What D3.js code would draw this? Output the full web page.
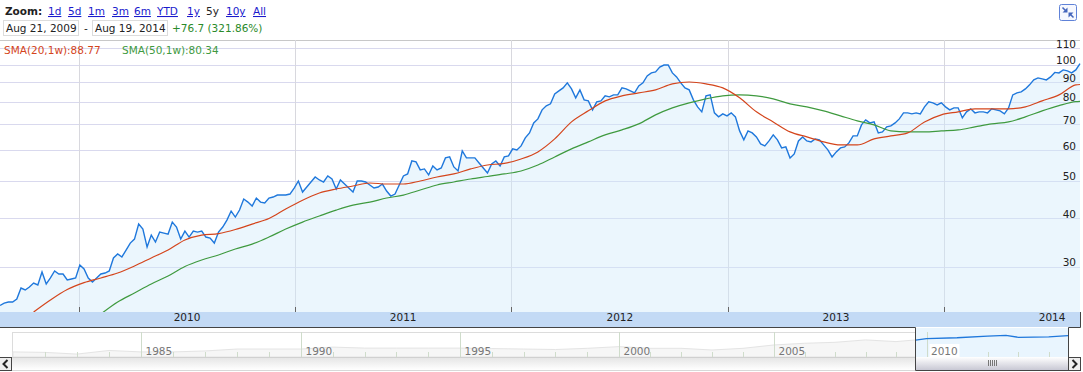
<!DOCTYPE html>
<html>
<head>
<meta charset="utf-8">
<script src="https://cdn.jsdelivr.net/npm/d3@7"></script>
<style>
  html, body { margin: 0; padding: 0; background: #fff; }
  svg { display: block; }
  text { font-family: "DejaVu Sans", Verdana, sans-serif; font-size: 10.5px; }
  .domain { display: none; }
</style>
</head>
<body>
<div class="canvas"></div>
<script>
// weekly closes, 21 Aug 2009 to 19 Aug 2014
const closes = [
  23.83,24.18,24.33,24.33,24.77,26.44,26.13,26.60,27.24,26.92,
  29.09,27.08,28.07,29.26,28.74,28.74,27.73,27.90,28.07,30.33,
  29.61,28.07,27.40,28.07,28.74,28.91,29.26,31.62,32.38,31.81,
  33.15,34.55,35.38,38.69,37.56,33.74,36.24,34.76,36.89,36.67,
  36.45,39.15,38.01,35.38,37.11,35.81,37.11,36.89,37.11,35.81,
  35.59,34.55,36.89,38.01,39.62,41.80,40.33,42.05,44.90,44.10,
  43.06,45.17,44.10,43.85,45.17,45.44,45.98,45.98,45.98,46.26,
  47.94,49.99,46.81,48.23,49.69,51.20,50.29,49.69,51.51,50.59,
  47.66,50.29,49.10,47.94,46.81,49.99,49.99,49.69,48.81,47.94,
  48.23,49.10,47.09,45.71,46.26,48.81,51.51,52.13,56.33,56.00,
  53.39,53.71,51.82,54.68,53.39,54.03,57.35,57.69,54.35,53.07,
  59.80,57.35,57.35,57.35,55.66,54.03,52.44,55.33,56.33,54.68,
  57.69,58.04,60.51,60.15,61.60,64.61,66.56,70.64,72.35,76.34,
  78.18,79.12,83.96,85.47,87.01,89.64,86.49,81.99,85.98,81.02,
  80.54,76.34,80.07,80.54,82.97,82.48,83.46,83.46,87.01,86.49,
  85.47,84.46,88.05,89.64,93.44,95.12,95.69,98.52,99.70,99.70,
  95.12,92.89,89.64,87.01,85.98,81.02,77.72,75.44,82.97,83.46,
  74.99,73.22,74.54,73.65,74.99,73.22,67.35,63.84,67.35,66.56,
  64.99,62.34,61.60,63.46,65.77,63.84,60.87,61.24,57.35,58.74,
  63.46,64.99,63.46,63.09,64.22,63.84,61.97,60.15,57.69,59.44,
  60.87,61.24,62.71,65.38,65.38,69.80,71.92,70.64,71.06,66.56,
  66.95,68.98,69.39,70.64,72.35,74.99,74.99,74.54,74.99,74.54,
  77.72,80.07,79.59,78.65,79.59,77.72,76.34,77.26,77.26,72.78,
  75.44,76.80,74.99,75.44,75.44,74.99,76.80,76.34,75.89,74.54,
  77.26,83.46,84.46,84.96,86.49,88.58,91.25,92.34,91.79,91.25,
  92.89,95.40,95.12,96.83,96.26,95.12,96.83,100.53
];

// moving averages, one reading every 4th week (index into closes)
const sma20Index = d3.range(8, 257, 4).concat(257);
const sma20 = [
  22.92,24.62,26.20,27.30,28.07,28.91,30.15,31.62,33.15,35.20,
  36.24,36.56,37.45,38.69,39.99,42.33,44.60,46.54,47.66,48.52,
  49.40,49.10,49.10,50.00,51.20,52.13,53.71,54.98,55.50,57.00,
  59.44,64.22,71.06,75.89,80.54,82.97,84.46,85.98,89.10,90.10,
  89.10,87.00,82.00,75.44,71.06,66.95,64.99,63.09,61.97,61.97,
  64.22,65.38,66.56,71.06,74.10,75.44,76.80,76.80,76.80,77.72,
  80.54,83.46,88.58,88.77
];
const sma50Index = d3.range(24, 257, 4).concat(257);
const sma50 = [
  22.65,24.33,25.67,27.08,28.40,30.06,31.24,32.19,33.35,34.34,
  35.81,37.56,39.15,40.60,42.05,43.32,44.10,45.17,45.98,47.37,
  48.81,49.69,50.59,51.35,52.13,53.07,54.98,57.69,60.51,63.09,
  65.77,67.76,70.22,74.10,77.26,79.59,81.50,82.97,83.46,82.97,
  81.50,79.12,77.72,75.89,73.65,71.49,69.80,67.35,66.95,66.95,
  67.35,67.76,68.98,70.22,71.06,73.22,75.89,78.30,80.20,80.34
];

const yTicks = [110, 100, 90, 80, 70, 60, 50, 40, 30];
const years = [2010, 2011, 2012, 2013, 2014];
const zoomLinks = ['1d', '5d', '1m', '3m', '6m', 'YTD', '1y', '5y', '10y', 'All'];
const zoomLinkX = [48, 68, 88, 112, 134, 157, 187, 206, 226, 253];

// overview strip: relative height of the long history, yearly from 1981
const navYears = [
  1981,1982,1983,1984,1985,1986,1987,1988,1989,1990,
  1991,1992,1993,1994,1995,1996,1997,1998,1999,2000,
  2001,2002,2003,2004,2005,2006,2007,2008,2009,2009.64
];
const navLevels = [
  17,15,8,23,17,17,21,29,29,29,
  37,33,33,33,33,31,29,27,32,39,
  32,32,25,32,46,53,57,67,60,67
];
const navRecentYears = [2009.64, 2010, 2011, 2012, 2012.6, 2013, 2014, 2014.63];
const navRecentLevels = [66, 72, 76, 83, 86, 78, 80, 85];
const navLabelYears = [1985, 1990, 1995, 2000, 2005, 2010];

const width = 1083, height = 372;
const plot = {left: 0, right: 1080, top: 40, bottom: 312};
const nav = {left: 12, right: 1068, top: 332, bottom: 357, selLeft: 915};

const svg = d3.select('.canvas').append('svg')
  .attr('width', width)
  .attr('height', height);

const defs = svg.append('defs');
defs.append('clipPath').attr('id', 'plotClip').append('rect')
  .attr('x', plot.left).attr('y', plot.top)
  .attr('width', plot.right - plot.left + 1).attr('height', plot.bottom - plot.top);

const gradient = (id, a, b) => {
  const g = defs.append('linearGradient').attr('id', id)
    .attr('x1', 0).attr('y1', 0).attr('x2', 0).attr('y2', 1);
  g.append('stop').attr('offset', 0).attr('stop-color', a);
  g.append('stop').attr('offset', 1).attr('stop-color', b);
};
gradient('scrollBg', '#e4e4e4', '#ffffff');
gradient('thumbBg', '#ffffff', '#c8c8d4');

// scales
const start = new Date(2009, 7, 21), end = new Date(2014, 7, 19);
const x = d3.scaleTime().domain([start, end]).range([plot.left, plot.right]);
const y = d3.scaleLog().domain([100, 30]).range([64.5, 266.8]);
const weekDate = i => new Date(+start + i * (end - start) / (closes.length - 1));

// top controls
const topBar = svg.append('g');
topBar.append('text').attr('x', 5).attr('y', 15)
  .attr('font-weight', 'bold').attr('fill', '#222').text('Zoom:');
topBar.selectAll('.link').data(zoomLinks).enter().append('text')
  .attr('class', 'link')
  .attr('x', (d, i) => zoomLinkX[i])
  .attr('y', 15)
  .attr('fill', d => d === '5y' ? '#222' : '#1a1acc')
  .attr('text-decoration', d => d === '5y' ? 'none' : 'underline')
  .text(d => d);

[[3, 'Aug 21, 2009'], [92, 'Aug 19, 2014']].forEach(([bx, label]) => {
  topBar.append('rect').attr('x', bx + 0.5).attr('y', 20.5)
    .attr('width', 75).attr('height', 15)
    .attr('fill', '#fff').attr('stroke', '#dcdcdc');
  topBar.append('text').attr('x', bx + 3).attr('y', 32).attr('fill', '#222').text(label);
});
topBar.append('text').attr('x', 84).attr('y', 32).attr('fill', '#222').text('-');
topBar.append('text').attr('x', 172).attr('y', 32).attr('fill', '#2a8a2a').text('+76.7 (321.86%)');

// expand button
const btn = svg.append('g').attr('transform', 'translate(1059.5,4.5)');
btn.append('rect').attr('width', 17).attr('height', 16).attr('rx', 2)
  .attr('fill', '#f6f8fe').attr('stroke', '#5f82d8').attr('stroke-width', 1);
btn.append('path').attr('d', 'M3,3 L6,6 M14,13 L11,10').attr('stroke', '#4466bb').attr('stroke-width', 1.5);
btn.append('path').attr('d', 'M8,8 h-5 l5,-5 z M9,8 h5 l-5,5 z').attr('fill', '#4466bb');

// grid
svg.append('line').attr('x1', 0).attr('x2', plot.right)
  .attr('y1', plot.top + 0.5).attr('y2', plot.top + 0.5).attr('stroke', '#c8c8c8');

svg.append('g').selectAll('line').data(yTicks).enter().append('line')
  .attr('x1', plot.left).attr('x2', plot.right)
  .attr('y1', d => Math.round(y(d)) + 0.5)
  .attr('y2', d => Math.round(y(d)) + 0.5)
  .attr('stroke', '#d9d9ee');

const yearLines = years.map(d => new Date(d, 0, 1));
svg.append('g').selectAll('line').data(yearLines).enter().append('line')
  .attr('x1', d => Math.round(x(d)) + 0.5).attr('x2', d => Math.round(x(d)) + 0.5)
  .attr('y1', plot.top).attr('y2', plot.bottom)
  .attr('stroke', '#d8d8de');

// series
const chart = svg.append('g').attr('clip-path', 'url(#plotClip)');

chart.append('path').datum(closes)
  .attr('fill', '#cfe9fb').attr('fill-opacity', 0.42)
  .attr('d', d3.area()
    .x((d, i) => x(weekDate(i)))
    .y0(plot.bottom)
    .y1(d => y(d)));

const drawSma = (index, values, colour) => {
  chart.append('path').datum(values)
    .attr('fill', 'none').attr('stroke', colour).attr('stroke-width', 1.2)
    .attr('d', d3.line()
      .curve(d3.curveMonotoneX)
      .x((d, i) => x(weekDate(index[i])))
      .y(d => y(d)));
};

chart.append('path').datum(closes)
  .attr('fill', 'none').attr('stroke', '#1f78dc').attr('stroke-width', 1.4)
  .attr('d', d3.line()
    .x((d, i) => x(weekDate(i)))
    .y(d => y(d)));

drawSma(sma50Index, sma50, '#3f9a3f');
drawSma(sma20Index, sma20, '#d4451c');

// sma legend
svg.append('text').attr('x', 4).attr('y', 54).attr('fill', '#d4451c').text('SMA(20,1w):88.77');
svg.append('text').attr('x', 122).attr('y', 54).attr('fill', '#3f9a3f').text('SMA(50,1w):80.34');

// y labels
const yAxis = d3.axisLeft(y).tickValues(yTicks).tickSize(0).tickPadding(0).tickFormat(d3.format('d'));
svg.append('g').attr('transform', 'translate(1076,0)').call(yAxis)
  .selectAll('text')
    .attr('dy', '-1px')
    .attr('y', 0)
    .attr('fill', '#222')
    .attr('font-size', 11)
    .attr('font-family', '"DejaVu Sans", sans-serif');

// x band
svg.append('rect').attr('x', 0).attr('y', plot.bottom)
  .attr('width', plot.right + 1).attr('height', 15).attr('fill', '#c3daf5');

svg.append('g').selectAll('line').data(yearLines).enter().append('line')
  .attr('x1', d => Math.round(x(d)) + 0.5).attr('x2', d => Math.round(x(d)) + 0.5)
  .attr('y1', plot.bottom - 5).attr('y2', plot.bottom)
  .attr('stroke', '#666');

const xAxis = d3.axisBottom(x)
  .tickValues(years.map(d => new Date(d, 6, 2)))
  .tickSize(0).tickPadding(0)
  .tickFormat(d3.timeFormat('%Y'));
svg.append('g').attr('transform', `translate(0,${plot.bottom + 2})`).call(xAxis)
  .selectAll('text')
    .attr('fill', '#222')
    .attr('font-size', 11)
    .attr('font-family', '"DejaVu Sans", sans-serif');

// overview strip, the years are not quite evenly spaced in the reference
const navX = d3.scaleLinear()
  .domain([1981, 1985, 1990, 1995, 2000, 2005, 2010, 2014.63])
  .range([13, 141, 301, 460, 619, 774, 926.5, nav.right]);
const navY = d3.scaleLinear().domain([0, 100]).range([356, 332]);

svg.append('rect').attr('x', nav.left + 0.5).attr('y', nav.top + 0.5)
  .attr('width', nav.selLeft - nav.left).attr('height', nav.bottom - nav.top)
  .attr('fill', '#fff').attr('stroke', '#dcdcdc');

svg.append('path').datum(navLevels)
  .attr('fill', '#f6f6f6').attr('stroke', '#e4e4e4')
  .attr('d', d3.area()
    .x((d, i) => navX(navYears[i]))
    .y0(nav.bottom)
    .y1(d => navY(d)));

// selected window
svg.append('rect').attr('x', nav.selLeft).attr('y', 328)
  .attr('width', nav.right - nav.selLeft).attr('height', nav.bottom - 328)
  .attr('fill', '#e9f5fe');

svg.append('g').selectAll('line').data(d3.range(1982, 2015)).enter().append('line')
  .attr('x1', d => Math.round(navX(d)) + 0.5).attr('x2', d => Math.round(navX(d)) + 0.5)
  .attr('y1', d => navLabelYears.includes(d) ? nav.top : nav.bottom - 5)
  .attr('y2', nav.bottom)
  .attr('stroke', '#cfdccb');

svg.append('path').datum(navRecentLevels)
  .attr('fill', 'none').attr('stroke', '#1f78dc').attr('stroke-width', 1.3)
  .attr('d', d3.line()
    .x((d, i) => navX(navRecentYears[i]))
    .y(d => navY(d)));

svg.append('g').selectAll('rect').data(navLabelYears.slice(-1)).enter().append('rect')
  .attr('x', d => navX(d) + 3).attr('y', 344).attr('width', 30).attr('height', 13)
  .attr('fill', '#fff');
svg.append('g').selectAll('text').data(navLabelYears).enter().append('text')
  .attr('x', d => navX(d) + 4.5)
  .attr('y', 355)
  .attr('fill', '#777')
  .attr('font-size', 11)
  .text(d => d);

// scrollbar
svg.append('rect').attr('x', 12).attr('y', nav.bottom).attr('width', nav.selLeft - 12)
  .attr('height', 13).attr('fill', 'url(#scrollBg)');
svg.append('rect').attr('x', nav.selLeft).attr('y', nav.bottom).attr('width', nav.right - nav.selLeft)
  .attr('height', 13).attr('fill', 'url(#thumbBg)');
svg.append('line').attr('x1', 12).attr('x2', nav.selLeft)
  .attr('y1', nav.bottom + 0.5).attr('y2', nav.bottom + 0.5).attr('stroke', '#d0d0d0');
svg.append('line').attr('x1', 0).attr('x2', nav.selLeft)
  .attr('y1', 370.5).attr('y2', 370.5).attr('stroke', '#d8d8d8');

// thumb grip
svg.append('g').selectAll('line').data([-3, -1, 1, 3, 5]).enter().append('line')
  .attr('x1', d => 991.5 + d).attr('x2', d => 991.5 + d)
  .attr('y1', 360).attr('y2', 366).attr('stroke', '#777');

// frame round the window
svg.append('path')
  .attr('d', `M0,327.5 H${nav.selLeft + 0.5} V370.5 H${nav.right + 0.5} V327.5 H${plot.right + 0.5} V312`)
  .attr('fill', 'none').attr('stroke', '#444');

// scroll buttons
const arrowBtn = (bx, path) => {
  svg.append('rect').attr('x', bx + 0.5).attr('y', nav.bottom + 0.5).attr('width', 12).attr('height', 13)
    .attr('fill', '#eee').attr('stroke', '#444');
  svg.append('path').attr('d', path).attr('fill', 'none').attr('stroke', '#222').attr('stroke-width', 2);
};
arrowBtn(-1, 'M7.5,360 L3.5,364 L7.5,368');
arrowBtn(1068, 'M1072.5,360 L1076.5,364 L1072.5,368');
</script>
</body>
</html>
